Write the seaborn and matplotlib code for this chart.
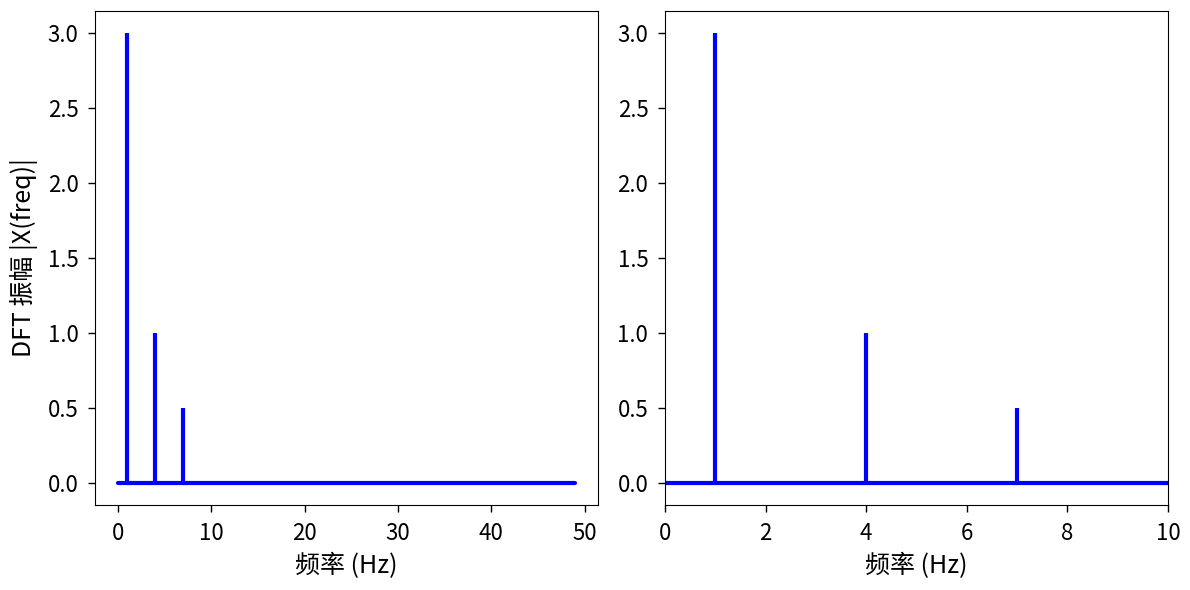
import numpy as np
import matplotlib
matplotlib.use("Agg")
import matplotlib.pyplot as plt
import seaborn as sns

# one-sided DFT amplitude, frequencies 0..49 Hz
freq = [0, 1, 2, 3, 4, 5, 6, 7, 8, 9,
        10, 11, 12, 13, 14, 15, 16, 17, 18, 19,
        20, 21, 22, 23, 24, 25, 26, 27, 28, 29,
        30, 31, 32, 33, 34, 35, 36, 37, 38, 39,
        40, 41, 42, 43, 44, 45, 46, 47, 48, 49]
amp = [0.0, 3.0, 0.0, 0.0, 1.0, 0.0, 0.0, 0.5, 0.0, 0.0,
       0.0, 0.0, 0.0, 0.0, 0.0, 0.0, 0.0, 0.0, 0.0, 0.0,
       0.0, 0.0, 0.0, 0.0, 0.0, 0.0, 0.0, 0.0, 0.0, 0.0,
       0.0, 0.0, 0.0, 0.0, 0.0, 0.0, 0.0, 0.0, 0.0, 0.0,
       0.0, 0.0, 0.0, 0.0, 0.0, 0.0, 0.0, 0.0, 0.0, 0.0]

sns.set_theme(style="ticks", color_codes=False,
              rc={"text.color": "black", "axes.labelcolor": "black",
                  "xtick.color": "black", "ytick.color": "black",
                  "axes.edgecolor": "black"})
plt.rcParams['font.family'] = ['Noto Sans CJK SC', 'DejaVu Sans']
plt.rcParams['axes.unicode_minus'] = False

fig, axes = plt.subplots(1, 2, figsize=(11.9, 5.9), dpi=100)
fig.subplots_adjust(left=0.080, right=0.9815, top=0.982, bottom=0.144, wspace=0.133)

for ax in axes:
    ml, sl, bl = ax.stem(freq, amp, linefmt='-', markerfmt=" ", basefmt="-")
    plt.setp(sl, linewidth=3, color='blue')
    plt.setp(bl, linewidth=3, color='blue')
    ax.set_xlabel('频率 (Hz)', fontsize=18, labelpad=6)
    ax.tick_params(labelsize=16, direction='out', length=5, width=1, pad=7)
    for s in ax.spines.values():
        s.set_visible(True)
        s.set_linewidth(0.8)

axes[0].set_ylabel('DFT 振幅 |X(freq)|', fontsize=18, labelpad=7)
axes[1].set_xlim(0, 10)

plt.savefig("out.png", dpi=100)
plt.close()
